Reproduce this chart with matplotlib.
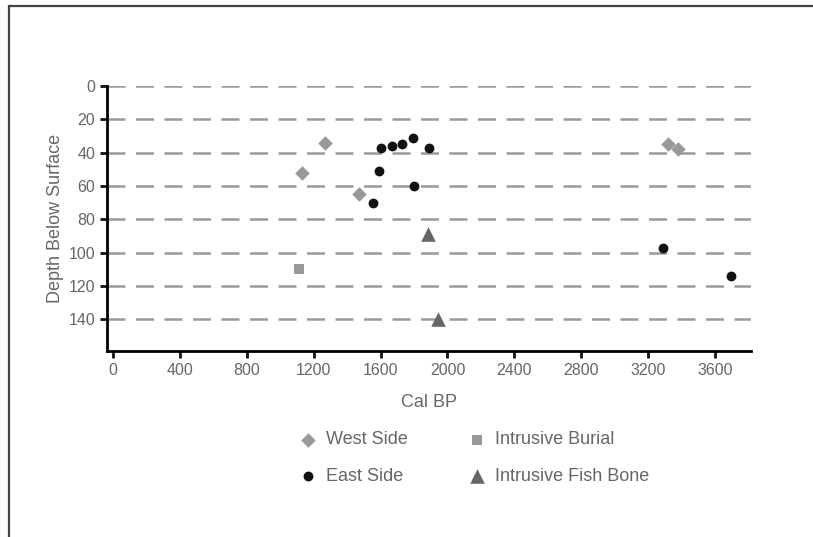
import matplotlib
matplotlib.use("Agg")
import matplotlib.pyplot as plt
from matplotlib.patches import Rectangle

# Data (Cal BP, depth below surface)
west_x = [1130, 1268, 1471, 3320, 3380]
west_y = [52, 34, 65, 35, 38]

east_x = [1555, 1591, 1603, 1667, 1727, 1793, 1802, 1892, 3287, 3693]
east_y = [70, 51, 37, 36, 35, 31, 60, 37, 97, 114]

burial_x = [1113]
burial_y = [110]

fish_x = [1881, 1941]
fish_y = [89, 140]

x_ticks = [0, 400, 800, 1200, 1600, 2000, 2400, 2800, 3200, 3600]
y_ticks = [0, 20, 40, 60, 80, 100, 120, 140]

plt.rcParams['font.family'] = ['Liberation Sans', 'DejaVu Sans']
text_color = '#666666'

fig = plt.figure(figsize=(8.13, 5.37), dpi=100)
ax = fig.add_axes([107 / 813, 1 - 351 / 537, (751 - 107) / 813, (351 - 86) / 537])

# outer frame
fig.patches.append(Rectangle((9 / 813, -0.05), 1.2, 1 - 6 / 537 + 0.05,
                             transform=fig.transFigure, fill=False,
                             edgecolor='#444444', linewidth=1.6))

# dashed horizontal grid
for y in y_ticks:
    ax.axhline(y, color='#9a9a9a', linewidth=1.8, linestyle=(0, (7.2, 4.2)), zorder=1)

ax.scatter(west_x, west_y, marker='D', s=55, color='#999999', linewidths=0, label='West Side', zorder=3)
ax.scatter(east_x, east_y, marker='o', s=50, color='#111111', linewidths=0, label='East Side', zorder=3)
ax.scatter(burial_x, burial_y, marker='s', s=45, color='#999999', linewidths=0, label='Intrusive Burial', zorder=3)
ax.scatter(fish_x, fish_y, marker='^', s=110, color='#666666', linewidths=0, label='Intrusive Fish Bone', zorder=3)

ax.set_xlim(-36, 3815)
ax.set_ylim(159, 0)
ax.set_xticks(x_ticks)
ax.set_yticks(y_ticks)

ax.spines['top'].set_visible(False)
ax.spines['right'].set_visible(False)
ax.spines['left'].set_linewidth(2)
ax.spines['bottom'].set_linewidth(2)
ax.tick_params(axis='both', direction='out', length=5, width=2, color='#111111',
               labelcolor=text_color, labelsize=11.5)

ax.set_xlabel('Cal BP', color=text_color, fontsize=13, labelpad=12)
ax.set_ylabel('Depth Below Surface', color=text_color, fontsize=13, labelpad=3)

fig.legend(loc='upper left', bbox_to_anchor=(281 / 813, 1 - 415 / 537), ncol=2,
           frameon=False, fontsize=13, labelcolor=text_color, labelspacing=1.1,
           columnspacing=3.2, handletextpad=0.4, handlelength=1.2, scatterpoints=1)

fig.savefig('out.png', dpi=100, facecolor='white')
